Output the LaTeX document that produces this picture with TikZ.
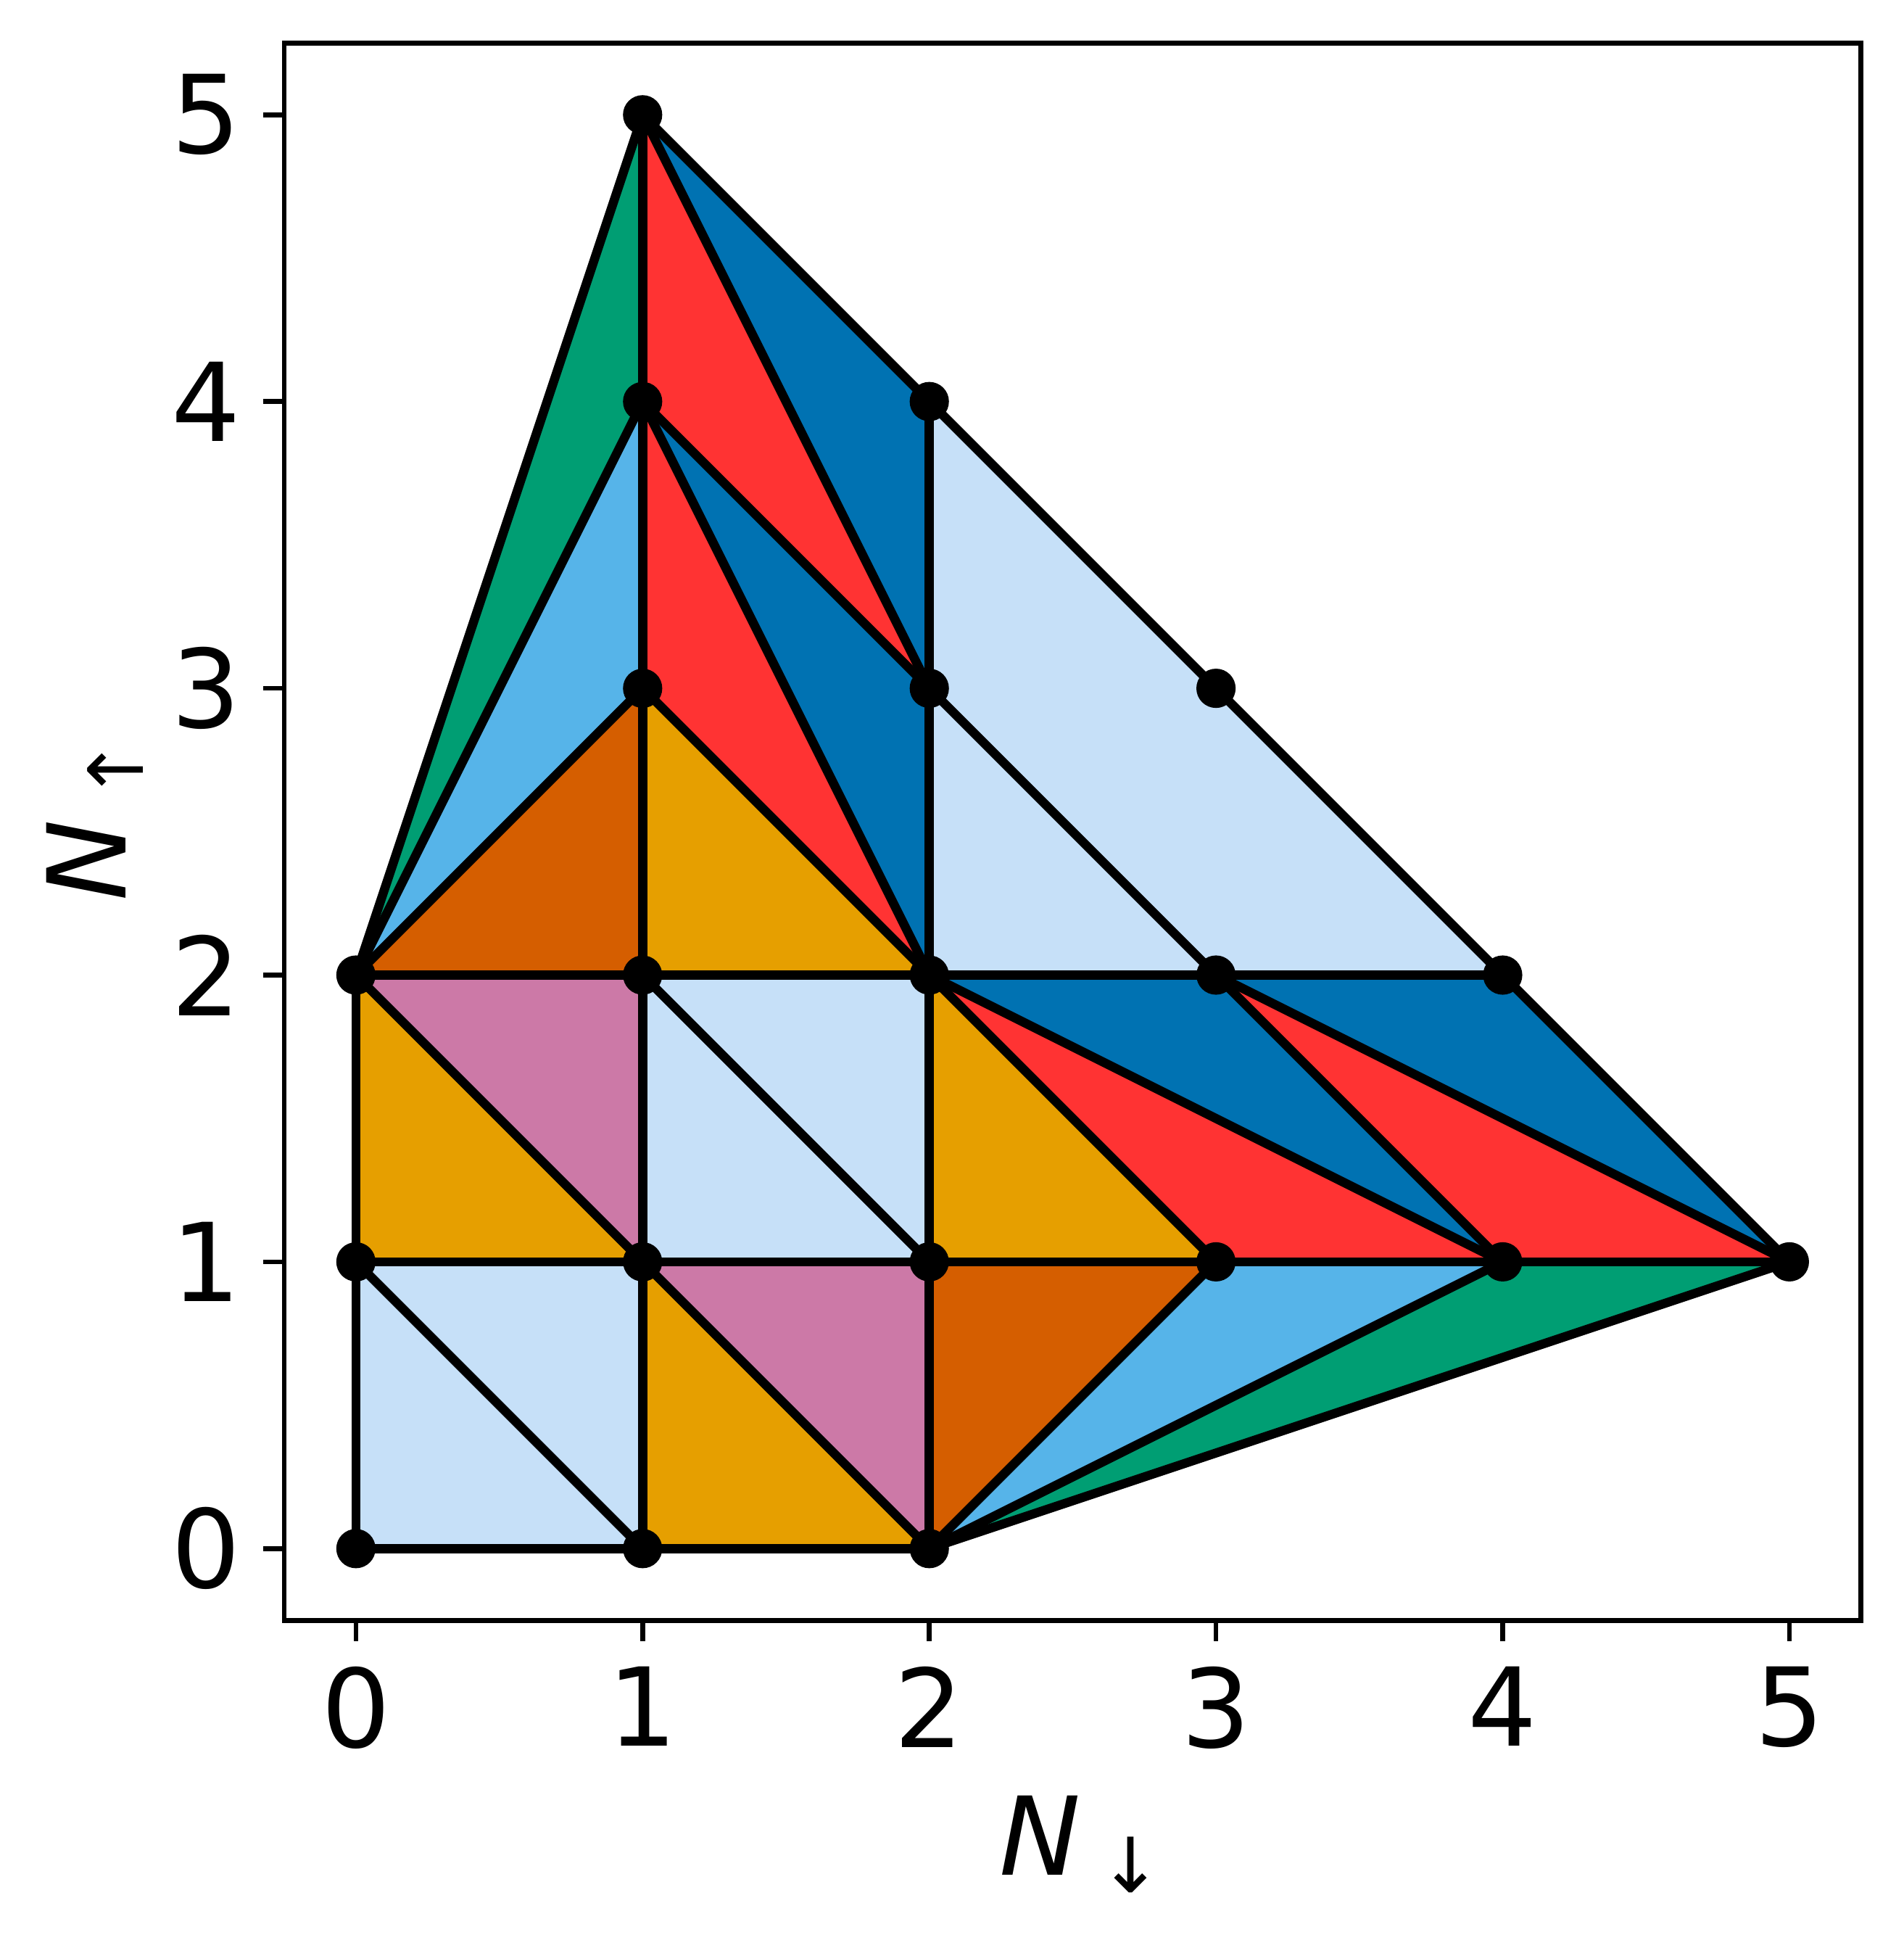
\documentclass[tikz,border=0pt]{standalone}
\usepackage{fontspec}
\setmainfont{DejaVu Sans}
\definecolor{clb}{HTML}{C6E0F8}
\definecolor{cor}{HTML}{E69F00}
\definecolor{cvm}{HTML}{D55E00}
\definecolor{cpk}{HTML}{CC79A7}
\definecolor{csb}{HTML}{56B4E9}
\definecolor{cgr}{HTML}{009E73}
\definecolor{crd}{HTML}{FF3333}
\definecolor{cdb}{HTML}{0072B2}
\tikzset{
  edge/.style={line width=1.5pt, line join=round, line cap=round},
  dot/.style={circle, fill=black, inner sep=0pt, minimum size=6.5pt},
  spine/.style={line width=0.8pt, line join=miter},
  tickmark/.style={line width=0.8pt},
  ticklab/.style={inner sep=0pt, font=\fontsize{18}{22}\selectfont},
  axlab/.style={inner sep=0pt, font=\fontsize{18}{22}\selectfont},
}
\newcommand{\tri}[4]{\fill[#1] (p#2) -- (p#3) -- (p#4) -- cycle;}
\begin{document}
\begin{tikzpicture}[x=47.46pt, y=47.46pt]
\path[use as bounding box] (-1.2415,-1.3649) rectangle (5.3982,5.4003);
% points
\foreach \a/\b in {0/0,1/0,2/0,0/1,1/1,2/1,3/1,4/1,5/1,0/2,1/2,2/2,3/2,4/2,1/3,2/3,3/3,1/4,2/4,1/5}
  \coordinate (p\a\b) at (\a,\b);
% fills
\tri{clb}{00}{10}{01}
\tri{clb}{10}{11}{01}
\tri{clb}{11}{21}{12}
\tri{clb}{21}{22}{12}
\fill[clb] (p22) -- (p24) -- (p33) -- (p42) -- cycle;
\tri{cor}{01}{11}{02}
\tri{cor}{10}{20}{11}
\tri{cor}{12}{13}{22}
\tri{cor}{21}{31}{22}
\tri{cpk}{02}{12}{11}
\tri{cpk}{11}{21}{20}
\tri{cvm}{02}{13}{12}
\tri{cvm}{20}{21}{31}
\tri{csb}{02}{14}{13}
\tri{csb}{20}{31}{41}
\tri{cgr}{02}{15}{14}
\tri{cgr}{20}{41}{51}
\tri{crd}{13}{14}{22}
\tri{crd}{14}{15}{23}
\tri{crd}{31}{41}{22}
\tri{crd}{41}{51}{32}
\tri{cdb}{14}{23}{22}
\tri{cdb}{15}{24}{23}
\tri{cdb}{41}{32}{22}
\tri{cdb}{51}{42}{32}
% edges
\foreach \u/\v in {00/10,10/20,00/01,01/02,01/10,10/11,11/12,12/13,13/14,14/15,
  01/11,11/21,21/31,31/41,41/51,02/12,12/22,22/32,32/42,20/21,21/22,22/23,23/24,
  21/12,23/32,24/33,33/42,02/11,11/20,13/22,31/22,02/13,20/31,02/14,20/41,
  02/15,20/51,14/22,41/22,15/23,51/32,14/23,41/32,15/24,51/42}
  \draw[edge] (p\u) -- (p\v);
% dots
\foreach \a/\b in {0/0,1/0,2/0,0/1,1/1,2/1,3/1,4/1,5/1,0/2,1/2,2/2,3/2,4/2,1/3,2/3,3/3,1/4,2/4,1/5}
  \node[dot] (d\a\b) at (p\a\b) {};
% axes frame
\draw[spine] (-0.25,-0.25) rectangle (5.25,5.25);
\foreach \i in {0,...,5}{
  \draw[tickmark] (\i,-0.25) -- ++(0,-3.5pt);
  \draw[tickmark] (-0.25,\i) -- ++(-3.5pt,0);
  \node[ticklab, anchor=north] (xt\i) at (\i,-0.408) {\i};
  \node[ticklab, anchor=east] (yt\i) at (-0.397,\i) {\i};
}
\node[axlab, anchor=base] (xlab) at (2.53,-1.138) {\itshape N\kern3pt\raisebox{-2.9pt}{\fontsize{12.6}{15}\selectfont ↓}};
\node[axlab, anchor=base, rotate=90] (ylab) at (-0.803,2.543) {\itshape N\kern3pt\raisebox{-2.9pt}{\fontsize{12.6}{15}\selectfont ↑}};
\end{tikzpicture}
\end{document}
